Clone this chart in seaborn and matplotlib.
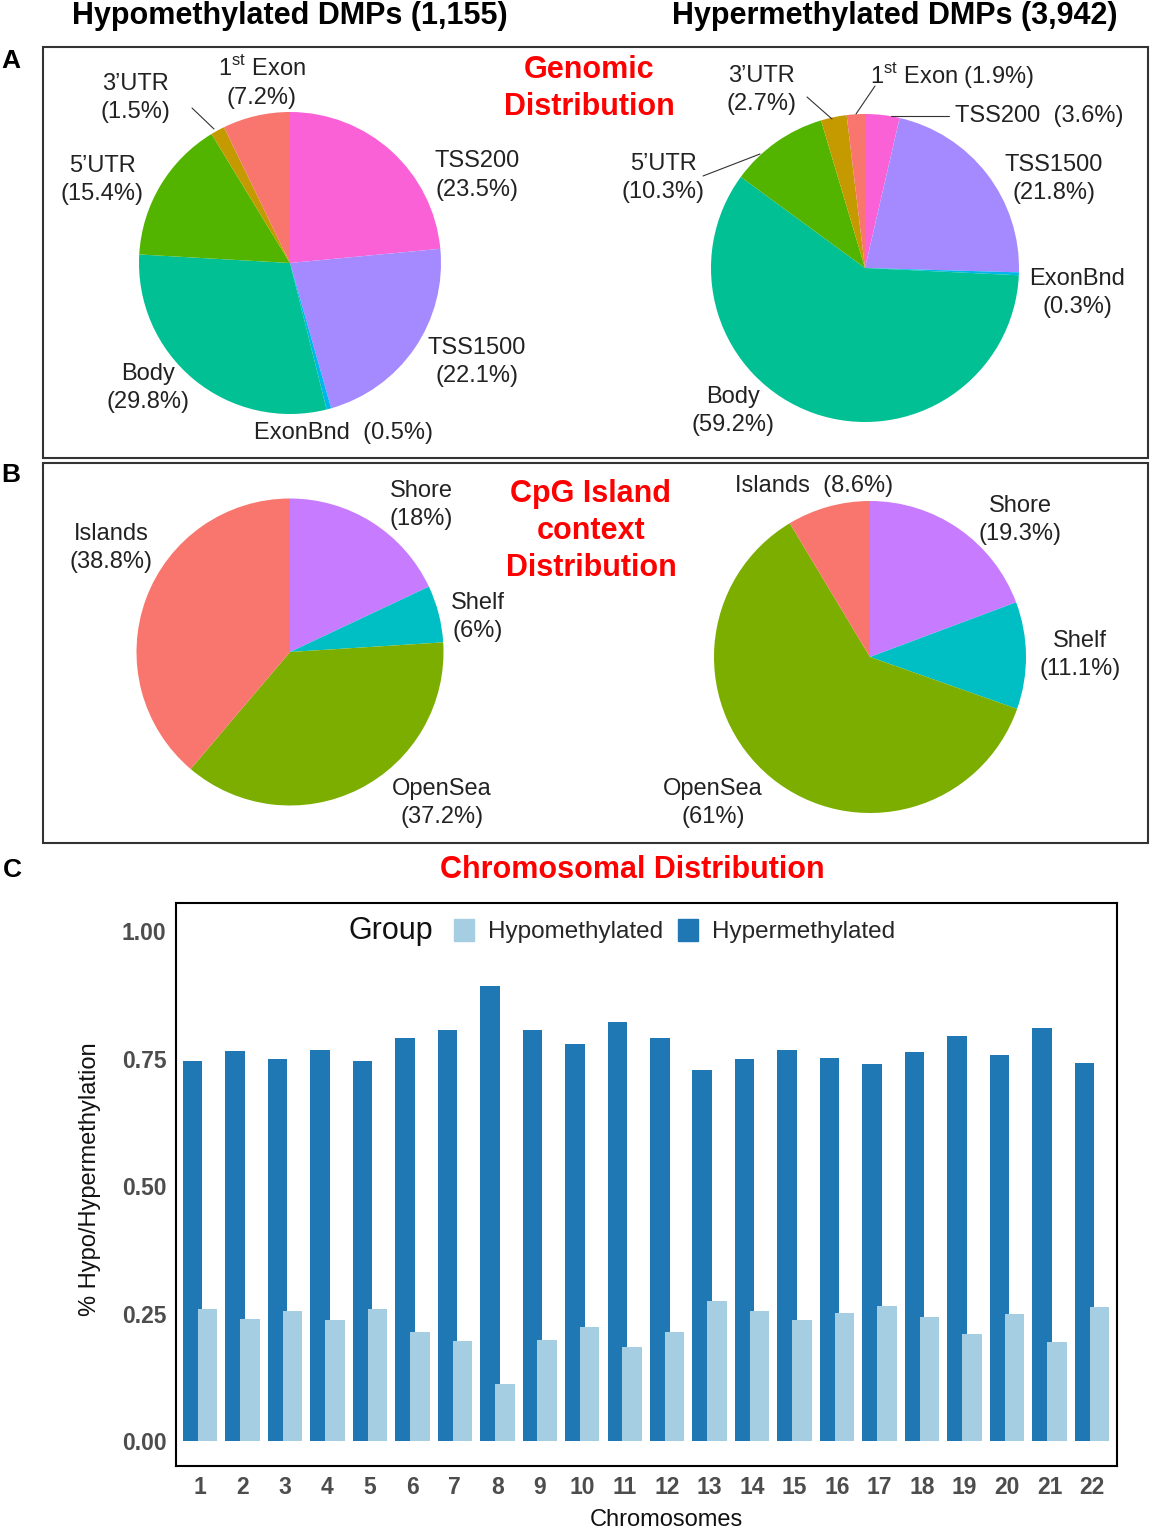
import matplotlib
matplotlib.use("Agg")
import matplotlib.pyplot as plt
import seaborn as sns
import pandas as pd
from matplotlib.patches import Rectangle, Patch

# Daten: Genomische Verteilung (Prozent), im Uhrzeigersinn ab 12 Uhr
genomic_regions = ["TSS200", "TSS1500", "ExonBnd", "Body", "5’UTR", "3’UTR", "1st Exon"]
hypo_genomic = [23.5, 22.1, 0.5, 29.8, 15.4, 1.5, 7.2]
hyper_genomic = [3.6, 21.8, 0.3, 59.2, 10.3, 2.7, 1.9]
genomic_colors = ["#FB61D7", "#A58AFF", "#00B6EB", "#00C094", "#53B400", "#C49A00", "#F8766D"]

# Daten: CpG-Island-Kontext (Prozent)
cpg_regions = ["Shore", "Shelf", "OpenSea", "Islands"]
hypo_cpg = [18, 6, 37.2, 38.8]
hyper_cpg = [19.3, 11.1, 61, 8.6]
cpg_colors = ["#C77CFF", "#00BFC4", "#7CAE00", "#F8766D"]

# Daten: Chromosomale Verteilung (Anteil)
chromosomes = ["1", "2", "3", "4", "5", "6", "7", "8", "9", "10", "11",
               "12", "13", "14", "15", "16", "17", "18", "19", "20", "21", "22"]
hyper_frac = [0.745, 0.764, 0.749, 0.766, 0.745, 0.791, 0.806, 0.892, 0.806, 0.778, 0.821,
              0.791, 0.728, 0.749, 0.766, 0.751, 0.739, 0.762, 0.794, 0.756, 0.810, 0.741]
hypo_frac = [0.258, 0.240, 0.255, 0.238, 0.258, 0.214, 0.197, 0.112, 0.199, 0.224, 0.184,
             0.214, 0.275, 0.255, 0.238, 0.252, 0.264, 0.243, 0.209, 0.250, 0.195, 0.262]
bar_colors = {"Hypomethylated": "#A6CEE3", "Hypermethylated": "#1F78B4"}

sns.set_style("white")
plt.rcParams["font.family"] = ["Liberation Sans", "DejaVu Sans"]
plt.rcParams["mathtext.fontset"] = "custom"
plt.rcParams["mathtext.rm"] = "Liberation Sans"

W, H = 1150, 1533
fig = plt.figure(figsize=(W / 100, H / 100), dpi=100)

# Panel C: Balkendiagramm
ax = fig.add_axes([176 / W, 1 - 1466 / H, (1117 - 176) / W, (1466 - 903) / H])
df = pd.DataFrame({
    "Chromosome": chromosomes * 2,
    "Fraction": hyper_frac + hypo_frac,
    "Group": ["Hypermethylated"] * len(chromosomes) + ["Hypomethylated"] * len(chromosomes),
})
sns.barplot(data=df, x="Chromosome", y="Fraction", hue="Group",
            hue_order=["Hypermethylated", "Hypomethylated"], palette=bar_colors,
            width=0.7, saturation=1, errorbar=None, legend=False, ax=ax)
for p in ax.patches:
    c = p.get_x() + p.get_width() / 2
    p.set_width(0.46)
    p.set_x(c - 0.23)
    p.set_linewidth(0)

ax.set_xlim(-0.565, 21.59)
ax.set_ylim(-0.049, 1.055)
ax.set_yticks([0, 0.25, 0.5, 0.75, 1.0])
ax.set_yticklabels(["0.00", "0.25", "0.50", "0.75", "1.00"])
ax.tick_params(length=0, labelsize=16.5, labelcolor="#4D4D4D", pad=7)
for lab in ax.get_xticklabels() + ax.get_yticklabels():
    lab.set_fontweight("bold")
ax.set_xlabel("")
ax.set_ylabel("")
for s in ax.spines.values():
    s.set_visible(True)
    s.set_color("black")
    s.set_linewidth(1.5)

handles = [Patch(color=bar_colors["Hypomethylated"]), Patch(color=bar_colors["Hypermethylated"])]
fig.legend(handles, ["Hypomethylated", "Hypermethylated"], loc="center left",
           bbox_to_anchor=(454 / W, 1 - 931 / H), ncol=2, frameon=False, fontsize=17.5,
           handlelength=0.82, handleheight=0.99, handletextpad=0.58, columnspacing=0.62,
           borderpad=0, borderaxespad=0)

# Overlay in Pixelkoordinaten fuer Kuchen, Rahmen und Texte
ov = fig.add_axes([0, 0, 1, 1])
ov.patch.set_alpha(0)


def draw_pie(values, colors, cx, cy, r):
    ov.pie(values, colors=colors, center=(cx, cy), radius=r, startangle=-90,
           counterclock=True, wedgeprops=dict(linewidth=0))


def label_text(name, value, sep):
    shown = "1$^{\\rm st}$ Exon" if name == "1st Exon" else name
    return f"{shown}{sep}({value:g}%)"


draw_pie(hypo_genomic, genomic_colors, 290, 263, 151)
draw_pie(hyper_genomic, genomic_colors, 865, 268, 154)
draw_pie(hypo_cpg, cpg_colors, 290, 652, 153.5)
draw_pie(hyper_cpg, cpg_colors, 870, 657, 156)

ov.set_aspect("auto")
ov.set_xlim(0, W)
ov.set_ylim(H, 0)
ov.axis("off")

# Rahmen A und B
ov.add_patch(Rectangle((43, 47), 1105, 411, fill=False, lw=1.5, ec="#333333"))
ov.add_patch(Rectangle((43, 463), 1105, 380, fill=False, lw=1.5, ec="#333333"))

# Beschriftungspositionen der Kuchenstuecke (x, y, Trenner)
layout_hypo_genomic = {
    "TSS200": (477, 175.5, "\n"), "TSS1500": (477, 362, "\n"), "ExonBnd": (343, 433, "  "),
    "Body": (148, 388, "\n"), "5’UTR": (102, 180, "\n"), "3’UTR": (135, 98, "\n"),
    "1st Exon": (262, 82, "\n"),
}
layout_hyper_genomic = {
    "TSS200": (1039, 116, "  "), "TSS1500": (1054, 179, "\n"), "ExonBnd": (1077, 293, "\n"),
    "Body": (733, 411, "\n"), "5’UTR": (663, 178, "\n"), "3’UTR": (761, 90, "\n"),
    "1st Exon": (952, 75, " "),
}
layout_hypo_cpg = {
    "Shore": (421, 505, "\n"), "Shelf": (478, 617, "\n"),
    "OpenSea": (442, 803, "\n"), "Islands": (111, 548, "\n"),
}
layout_hyper_cpg = {
    "Shore": (1020, 520, "\n"), "Shelf": (1080, 655, "\n"),
    "OpenSea": (713, 803, "\n"), "Islands": (814, 486, "  "),
}

for names, vals, lay in [(genomic_regions, hypo_genomic, layout_hypo_genomic),
                         (genomic_regions, hyper_genomic, layout_hyper_genomic),
                         (cpg_regions, hypo_cpg, layout_hypo_cpg),
                         (cpg_regions, hyper_cpg, layout_hyper_cpg)]:
    for name, v in zip(names, vals):
        x, y, sep = lay[name]
        ov.text(x, y, label_text(name, v, sep), ha="center", va="center",
                fontsize=17, color="#222222", linespacing=1.4)

# Hinweislinien
leaders = [((192, 108), (214, 129)), ((807, 97), (832, 119)), ((875, 86), (856, 114)),
           ((891, 116), (949, 116)), ((703, 176), (760, 154))]
for (x1, y1), (x2, y2) in leaders:
    ov.plot([x1, x2], [y1, y2], color="#333333", lw=0.8)

# Titel
bold = dict(ha="center", va="center", fontsize=22, fontweight="bold")
ov.text(289.5, 16, "Hypomethylated DMPs (1,155)", color="black", **bold)
ov.text(895, 16, "Hypermethylated DMPs (3,942)", color="black", **bold)
ov.text(589, 70, "Genomic", color="#FF0000", **bold)
ov.text(589, 107, "Distribution", color="#FF0000", **bold)
ov.text(591, 494, "CpG Island", color="#FF0000", **bold)
ov.text(591, 531, "context", color="#FF0000", **bold)
ov.text(591, 568, "Distribution", color="#FF0000", **bold)
ov.text(632, 870, "Chromosomal Distribution", color="#FF0000", **bold)

letters = dict(ha="center", va="center", fontsize=19, fontweight="bold", color="black")
ov.text(11, 61, "A", **letters)
ov.text(11, 475, "B", **letters)
ov.text(12, 870, "C", **letters)

# Achsenbeschriftungen Panel C
ov.text(391, 931, "Group", ha="center", va="center", fontsize=22, color="#111111")
ov.text(666, 1520, "Chromosomes", ha="center", va="center", fontsize=17, color="#111111")
ov.text(90, 1179, "% Hypo/Hypermethylation", ha="center", va="center", fontsize=17,
        rotation=90, color="#111111")

fig.savefig("out.png", dpi=100)
